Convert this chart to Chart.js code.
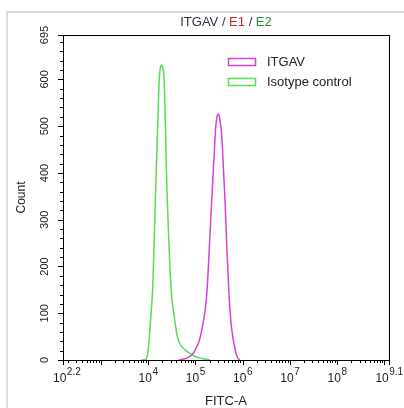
<!DOCTYPE html>
<html>
<head>
<meta charset="utf-8">
<script src="https://cdn.jsdelivr.net/npm/chart.js@4/dist/chart.umd.min.js"></script>
<style>
html,body{margin:0;padding:0;background:#fff;}
#wrap{position:relative;width:404px;height:408px;}
</style>
</head>
<body>
<div id="wrap"><canvas id="c" width="404" height="408"></canvas></div>
<script>
// log10(FITC-A) positions and counts
const itgavLog   = [4.65,4.75,4.82,4.90,4.96,5.02,5.07,5.12,5.17,5.21,5.25,5.30,5.35,5.40,5.43,5.46,5.49,5.52,5.56,5.60,5.63,5.67,5.72,5.76,5.81,5.86,5.90,5.94];
const itgavCount = [0,2,4,9,15,26,37,55,82,108,150,245,345,440,495,520,526,515,480,400,340,235,128,75,40,15,4,0];
const isoLog     = [3.85,3.95,3.98,4.01,4.05,4.10,4.13,4.16,4.20,4.24,4.27,4.29,4.31,4.34,4.37,4.40,4.44,4.48,4.52,4.57,4.61,4.66,4.72,4.80,4.89,4.99,5.10,5.20,5.31];
const isoCount   = [0,1,8,28,80,158,255,360,490,605,628,631,625,600,490,365,255,165,118,82,55,38,28,20,14,8,4,2,0];
const seriesNames = ["ITGAV","Isotype control"];
const yTicks = [0,100,200,300,400,500,600,695];
const xMajorExps = [2.2,3,4,5,6,7,8,9,9.1];
const xLabelExps = ["2.2",null,"4","5","6","7","8","9.1"];
const xLabelPos  = [2.2,3,4,5,6,7,8,9.1];
const titleParts = [["ITGAV ","#3b2b45"],["/ ","#3b2b45"],["E1","#d0202a"],[" / ","#3b2b45"],["E2","#2e8b2e"]];

const MAG = "#d63fd8", GRN = "#55dd55";
const FONT = "'Liberation Sans', Arial, sans-serif";

const axesPlugin = {
  id: 'axesPlugin',
  afterDraw(chart) {
    const ctx = chart.ctx, xs = chart.scales.x, ys = chart.scales.y, a = chart.chartArea;
    ctx.save();
    // outer frame
    ctx.strokeStyle = "#dcdcdc"; ctx.lineWidth = 2;
    ctx.beginPath(); ctx.moveTo(7, 408); ctx.lineTo(7, 12); ctx.lineTo(404, 12); ctx.stroke();
    // plot box
    ctx.strokeStyle = "#000"; ctx.lineWidth = 1;
    ctx.strokeRect(Math.round(a.left)+0.5, Math.round(a.top)+0.5, Math.round(a.right-a.left), Math.round(a.bottom-a.top));
    // y ticks
    ctx.beginPath();
    for (let v = 0; v <= 695; v += 20) {
      const y = Math.round(ys.getPixelForValue(v)) + 0.5;
      ctx.moveTo(a.left, y); ctx.lineTo(a.left - 3, y);
    }
    yTicks.forEach(v => {
      const y = Math.round(ys.getPixelForValue(v)) + 0.5;
      ctx.moveTo(a.left, y); ctx.lineTo(a.left - 5, y);
    });
    // x ticks
    const lo = 2.2, hi = 9.1;
    for (let d = 2; d <= 9; d++) {
      for (let m = 2; m <= 9; m++) {
        const e = d + Math.log10(m);
        if (e < lo || e > hi) continue;
        const x = Math.round(xs.getPixelForValue(e)) + 0.5;
        ctx.moveTo(x, a.bottom); ctx.lineTo(x, a.bottom + 3);
      }
    }
    xMajorExps.forEach(e => {
      const x = Math.round(xs.getPixelForValue(e)) + 0.5;
      ctx.moveTo(x, a.bottom); ctx.lineTo(x, a.bottom + 5);
    });
    ctx.stroke();
    // y tick labels (rotated)
    ctx.fillStyle = "#222";
    ctx.font = "11px " + FONT;
    ctx.textAlign = "center"; ctx.textBaseline = "middle";
    yTicks.forEach(v => {
      const y = ys.getPixelForValue(v);
      ctx.save(); ctx.translate(45, y); ctx.rotate(-Math.PI/2); ctx.fillText(String(v), 0, 0); ctx.restore();
    });
    // y title
    ctx.font = "12px " + FONT;
    ctx.save(); ctx.translate(22, (a.top + a.bottom)/2); ctx.rotate(-Math.PI/2); ctx.fillText("Count", 0, 0); ctx.restore();
    // x tick labels with superscripts
    ctx.textAlign = "left"; ctx.textBaseline = "alphabetic";
    xLabelPos.forEach((e, i) => {
      const ex = xLabelExps[i];
      if (ex === null) return;
      ctx.font = "12px " + FONT; const wb = ctx.measureText("10").width;
      ctx.font = "10px " + FONT; const we = ctx.measureText(ex).width;
      let x0 = xs.getPixelForValue(e) - (wb + we)/2;
      if (i === 0) x0 = 53;
      ctx.font = "12px " + FONT; ctx.fillText("10", x0, 382);
      ctx.font = "10px " + FONT; ctx.fillText(ex, x0 + wb + 0.5, 375);
    });
    // x title
    ctx.font = "13px " + FONT; ctx.textAlign = "center";
    ctx.fillText("FITC-A", (a.left + a.right)/2, 405);
    // chart title (multicolour)
    ctx.font = "13px " + FONT; ctx.textAlign = "left"; ctx.textBaseline = "middle";
    let total = 0; titleParts.forEach(p => total += ctx.measureText(p[0]).width);
    let tx = (a.left + a.right)/2 - total/2;
    titleParts.forEach(p => { ctx.fillStyle = p[1]; ctx.fillText(p[0], tx, 22); tx += ctx.measureText(p[0]).width; });
    // legend
    const cols = [MAG, GRN];
    seriesNames.forEach((n, i) => {
      const y = 58 + i*20;
      ctx.strokeStyle = cols[i]; ctx.lineWidth = 1.5; ctx.fillStyle = "#fff";
      ctx.fillRect(228.5, y + 0.5, 27, 7); ctx.strokeRect(228.5, y + 0.5, 27, 7);
      ctx.fillStyle = "#222"; ctx.font = "13px " + FONT; ctx.textBaseline = "middle";
      ctx.fillText(n, 267, y + 4);
    });
    ctx.restore();
  }
};

const toPts = (xs, ys) => xs.map((x, i) => ({x: x, y: ys[i]}));

new Chart(document.getElementById('c'), {
  type: 'line',
  data: {
    datasets: [
      {label: seriesNames[0], data: toPts(itgavLog, itgavCount), borderColor: MAG, borderWidth: 1.5, pointRadius: 0, cubicInterpolationMode: 'monotone', fill: false},
      {label: seriesNames[1], data: toPts(isoLog, isoCount), borderColor: GRN, borderWidth: 1.5, pointRadius: 0, cubicInterpolationMode: 'monotone', fill: false}
    ]
  },
  options: {
    responsive: false,
    animation: false,
    layout: {padding: {left: 63, top: 35, right: 15, bottom: 48}},
    plugins: {legend: {display: false}, tooltip: {enabled: false}},
    scales: {
      x: {type: 'linear', min: 2.2, max: 9.1, display: false},
      y: {type: 'linear', min: 0, max: 695, display: false}
    }
  },
  plugins: [axesPlugin]
});
</script>
</body>
</html>
